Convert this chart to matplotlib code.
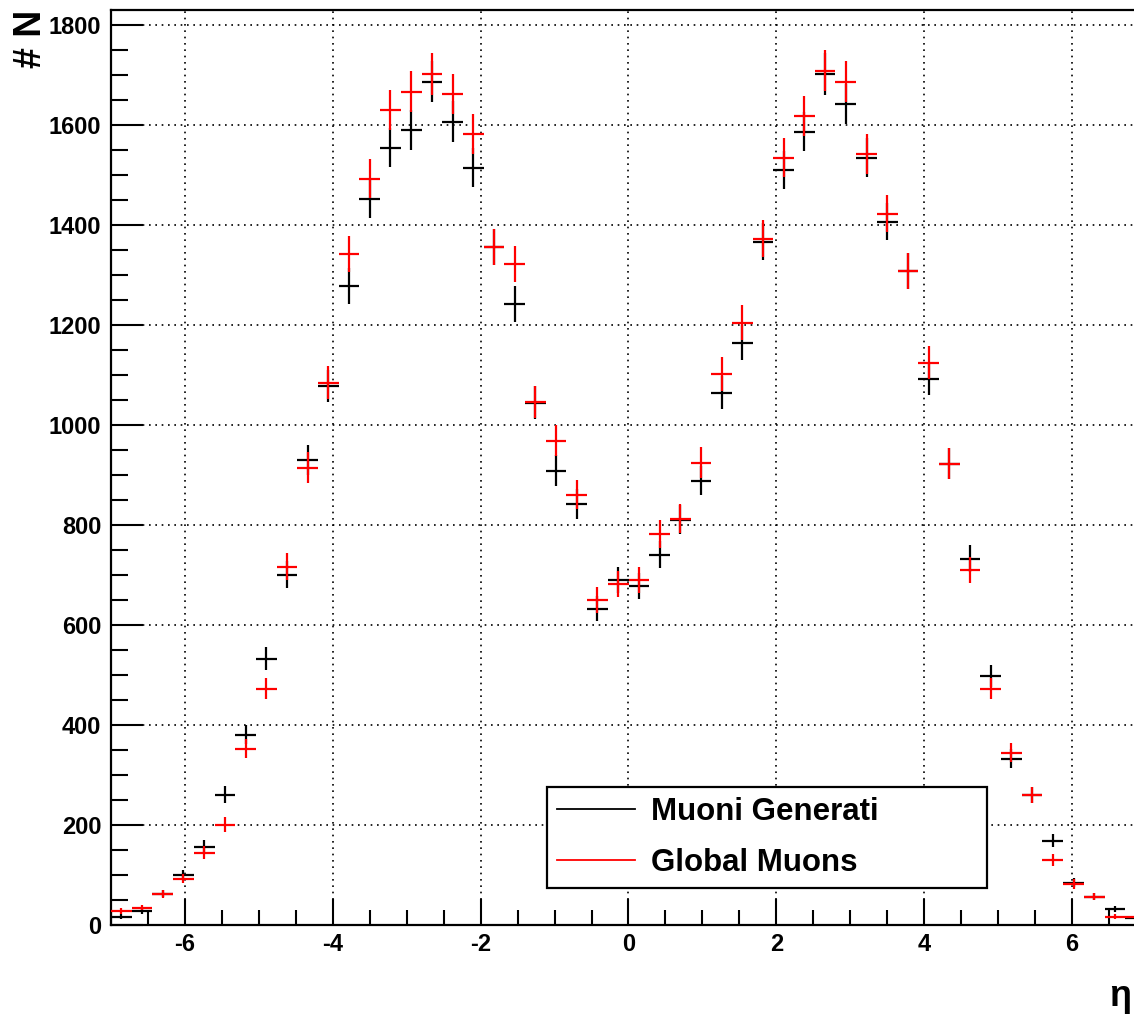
import numpy as np
import matplotlib
matplotlib.use("Agg")
import matplotlib.pyplot as plt
from matplotlib.lines import Line2D

# ---- data -------------------------------------------------------------
eta_min, eta_max, n_bins = -7.0, 7.0, 50
series_names = ["Muoni Generati", "Global Muons"]
series_colors = ["#000000", "#ff0000"]

muoni_generati = [17, 28, 63, 100, 157, 261, 381, 533, 701, 930,
                  1078, 1278, 1453, 1555, 1590, 1687, 1607, 1515, 1356, 1242,
                  1045, 909, 842, 633, 690, 678, 741, 811, 889, 1065,
                  1165, 1367, 1510, 1587, 1702, 1642, 1535, 1407, 1308, 1093,
                  923, 733, 498, 333, 260, 169, 85, 57, 32, 15]

global_muons = [28, 35, 62, 93, 145, 201, 353, 473, 717, 915,
                1085, 1342, 1493, 1630, 1667, 1702, 1662, 1582, 1356, 1322,
                1046, 969, 861, 650, 682, 690, 782, 813, 925, 1102,
                1205, 1373, 1535, 1618, 1709, 1687, 1542, 1423, 1308, 1125,
                923, 710, 473, 345, 260, 130, 82, 57, 17, 17]

x_ticks = [-6, -4, -2, 0, 2, 4, 6]
y_ticks = [0, 200, 400, 600, 800, 1000, 1200, 1400, 1600, 1800]
y_label = "# N"
x_label = "\u03b7"

# ---- figure -----------------------------------------------------------
plt.rcParams['font.family'] = ['Liberation Sans', 'DejaVu Sans']
plt.rcParams['font.weight'] = 'bold'
plt.rcParams['axes.unicode_minus'] = False

W, H = 1134, 1015
fig = plt.figure(figsize=(W / 100, H / 100), dpi=100)
fig.patch.set_facecolor("white")

# axes placed in pixels (right edge runs slightly past the picture, as in the reference)
ax_l, ax_r, ax_t, ax_b = 111, 1146, 10, 925
ax = fig.add_axes([ax_l / W, (H - ax_b) / H, (ax_r - ax_l) / W, (ax_b - ax_t) / H])
ax.set_xlim(eta_min, eta_max)
ax.set_ylim(0, 1830)

edges = np.linspace(eta_min, eta_max, n_bins + 1)
centers = 0.5 * (edges[:-1] + edges[1:])
half_w = 0.5 * (edges[1] - edges[0])

for vals, col, z in zip([muoni_generati, global_muons], series_colors, [3, 4]):
    v = np.array(vals, dtype=float)
    ax.errorbar(centers, v, xerr=half_w, yerr=np.sqrt(v), fmt='none',
                ecolor=col, elinewidth=1.6, capsize=0, zorder=z)

# grid
ax.set_xticks(x_ticks)
ax.set_yticks(y_ticks)
ax.set_xticks(np.arange(-7, 7.01, 0.5), minor=True)
ax.set_yticks(np.arange(0, 1830, 50), minor=True)
ax.grid(True, which='major', color='black', linestyle=(0, (1, 2.8)),
        linewidth=1.2, zorder=1)
ax.set_axisbelow(True)

ax.tick_params(axis='both', which='both', direction='in', colors='black',
               width=1.5, labelsize=17)
ax.tick_params(axis='y', which='major', length=23, pad=7)
ax.tick_params(axis='y', which='minor', length=12.5)
ax.tick_params(axis='x', which='major', length=19, pad=6)
ax.tick_params(axis='x', which='minor', length=11)
for lab in ax.get_xticklabels() + ax.get_yticklabels():
    lab.set_fontweight('bold')

for s in ['left', 'bottom', 'top']:
    ax.spines[s].set_linewidth(1.6)
    ax.spines[s].set_color('black')
ax.spines['right'].set_visible(False)

# legend
handles = [Line2D([], [], color=c, lw=1.3) for c in series_colors]
leg = ax.legend(handles, series_names, loc='upper left',
                bbox_to_anchor=(0.4213, 0.0393, 0.4251, 0.1115), mode='expand',
                borderaxespad=0, fontsize=22.5, frameon=True, fancybox=False,
                edgecolor='black', framealpha=1, handlelength=2.5,
                handletextpad=0.5, labelspacing=0.66, borderpad=0.33)
leg.get_frame().set_linewidth(1.6)
for t in leg.get_texts():
    t.set_fontweight('bold')

# axis titles
fig.text(31 / W, 1 - 10 / H, y_label, rotation=90, ha='center', va='top',
         fontsize=27, fontweight='bold')
fig.text(1131 / W, 1 - 997 / H, x_label, ha='right', va='center',
         fontsize=26, fontweight='bold')

fig.savefig("out.png", dpi=100, facecolor='white')
